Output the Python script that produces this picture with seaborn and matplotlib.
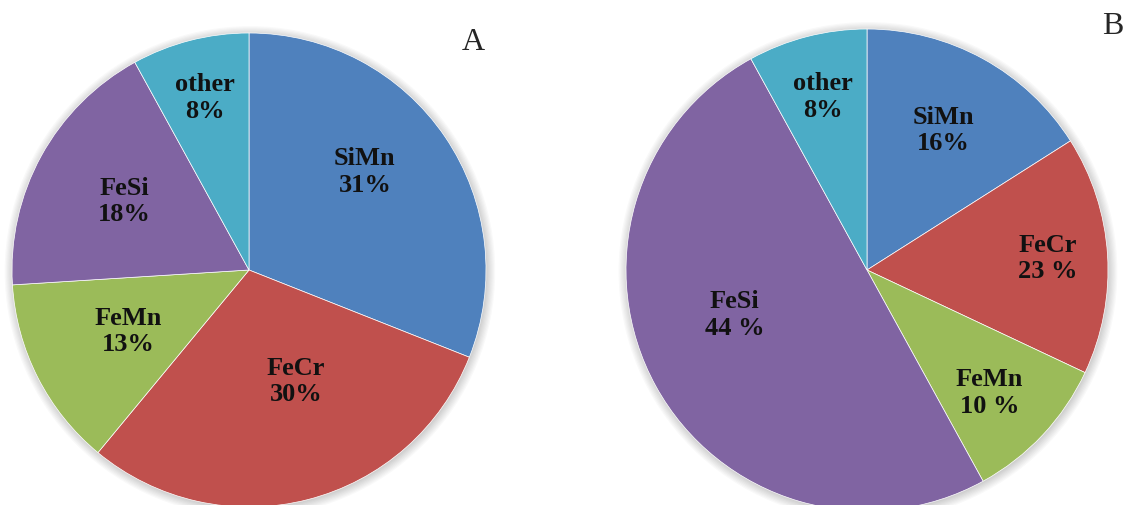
import numpy as np
import matplotlib
matplotlib.use("Agg")
import matplotlib.pyplot as plt
import seaborn as sns

sns.set_theme(style="white")
plt.rcParams['font.family'] = ['Liberation Serif', 'DejaVu Serif']

categories = ["SiMn", "FeCr", "FeMn", "FeSi", "other"]
values_a = [31, 30, 13, 18, 8]
# wedge sizes as drawn in panel B (its printed labels do not match the drawing)
values_b = [16, 16, 10, 50, 8]
labels_a = ["31%", "30%", "13%", "18%", "8%"]
labels_b = ["16%", "23 %", "10 %", "44 %", "8%"]
colors = ["#4F81BD", "#C0504D", "#9BBB59", "#8064A2", "#4BACC6"]

# label placement: fraction of radius and angle shift from wedge middle
rad_a = [0.64, 0.51, 0.57, 0.60, 0.75]
shift_a = [6, 8.5, 0, 0, 0]
rad_b = [0.66, 0.75, 0.72, 0.58, 0.74]
shift_b = [0, 0, -2, -10, 0]

W, H = 1131, 505
fig = plt.figure(figsize=(W / 100, H / 100), dpi=100)


def pie_axes(cx, cy, r):
    # axes in pixel coords, centred on the pie (with some room for the shadow)
    r2 = r * 1.1
    return fig.add_axes([(cx - r2) / W, 1 - (cy + r2) / H, 2 * r2 / W, 2 * r2 / H])


def draw_pie(ax, vals, labs, rads, shifts):
    # soft shadow round the rim
    for k in range(8):
        ax.add_patch(plt.Circle((0.004, -0.006), 1.0 + 0.005 * k,
                                color="#000000", alpha=0.025, lw=0, zorder=0))
    wedges, _ = ax.pie(vals, colors=colors, startangle=90, counterclock=False,
                       radius=1, wedgeprops=dict(edgecolor="white", linewidth=0.5))
    for w, name, lab, rr, sh in zip(wedges, categories, labs, rads, shifts):
        ang = np.deg2rad((w.theta1 + w.theta2) / 2 + sh)
        ax.text(rr * np.cos(ang), rr * np.sin(ang), name + "\n" + lab,
                ha="center", va="center", fontsize=19, fontweight="bold",
                color="#111111", linespacing=1.2)
    ax.set_xlim(-1.1, 1.1)
    ax.set_ylim(-1.1, 1.1)
    ax.set_aspect("equal")
    ax.axis("off")


ax1 = pie_axes(249, 270, 237)
draw_pie(ax1, values_a, labels_a, rad_a, shift_a)
ax2 = pie_axes(867, 270, 241)
draw_pie(ax2, values_b, labels_b, rad_b, shift_b)

fig.text(473 / W, 1 - 42 / H, "A", ha="center", va="center", fontsize=23)
fig.text(1113 / W, 1 - 26 / H, "B", ha="center", va="center", fontsize=23)

fig.savefig("out.png", dpi=100)
